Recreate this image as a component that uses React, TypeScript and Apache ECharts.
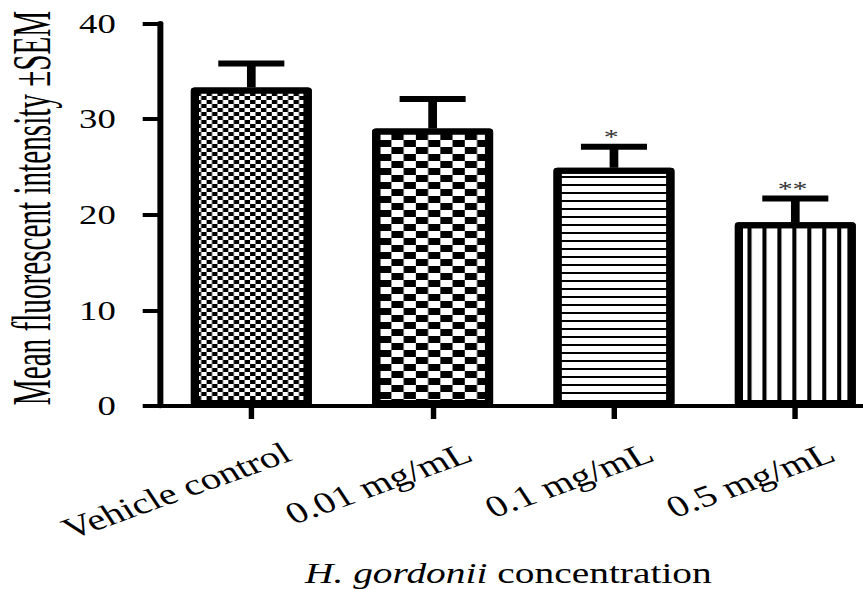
import React, { useEffect, useRef } from 'react';
import * as echarts from 'echarts';

// ---- data ----
const categories = ['Vehicle control', '0.01 mg/mL', '0.1 mg/mL', '0.5 mg/mL'];
const meanValues = [33.3, 29.0, 24.9, 19.2];
const semValues = [2.5, 3.1, 2.2, 2.5];
const significance = ['', '', '*', '**'];
const yTickValues = [0, 10, 20, 30, 40];
const yAxisTitle = 'Mean fluorescent intensity \u00B1SEM';
const xAxisTitleItalic = 'H. gordonii';
const xAxisTitleRest = ' concentration';

// ---- layout / style ----
const W = 635;
const H = 589;
const STRETCH = 863 / W;
const FONT = 'Liberation Serif';

const baseDecal = { symbol: 'rect', symbolSize: 1, symbolKeepAspect: false, color: '#000' };
const decals = [
  { ...baseDecal, dashArrayX: [[4, 4], [0, 4, 4, 0]], dashArrayY: [4, 0] },
  { ...baseDecal, dashArrayX: [[9, 9], [0, 9, 9, 0]], dashArrayY: [7, 0] },
  { ...baseDecal, dashArrayX: [20, 0], dashArrayY: [2, 6] },
  { ...baseDecal, dashArrayX: [3, 8], dashArrayY: [20, 0] },
];

export default function App() {
  const ref = useRef<HTMLDivElement>(null);

  useEffect(() => {
    if (!ref.current) return;
    const chart = echarts.init(ref.current, null, { renderer: 'svg' });
    const yStep = yTickValues[1] - yTickValues[0];
    const option: any = {
      animation: false,
      backgroundColor: '#fff',
      aria: { enabled: true, decal: { show: true } },
      textStyle: { fontFamily: FONT },
      grid: {
        left: 118.2,
        right: -16.9,
        top: 23.3,
        bottom: 183,
        containLabel: false,
        outerBoundsMode: 'none',
      },
      graphic: [
        {
          type: 'text',
          x: 23,
          y: 208,
          rotation: Math.PI / 2,
          scaleX: 0.712,
          scaleY: 1,
          silent: true,
          style: {
            text: yAxisTitle,
            fontFamily: FONT,
            fontSize: 41,
            fill: '#000',
            align: 'center',
            verticalAlign: 'middle',
          },
        },
      ],
      xAxis: {
        type: 'category',
        data: categories,
        boundaryGap: true,
        name: `{i|${xAxisTitleItalic}}${xAxisTitleRest}`,
        nameLocation: 'middle',
        nameGap: 152,
        nameMoveOverlap: false,
        nameTextStyle: {
          fontFamily: FONT,
          fontSize: 29,
          color: '#000',
          padding: [0, 22, 0, 0],
          rich: { i: { fontFamily: FONT, fontSize: 29, fontStyle: 'italic', color: '#000' } },
        },
        axisLine: { show: true, lineStyle: { color: '#000', width: 4 } },
        axisTick: { show: true, alignWithLabel: true, length: 13, lineStyle: { color: '#000', width: 4 } },
        axisLabel: {
          interval: 0,
          rotate: 26,
          margin: -10,
          fontFamily: FONT,
          fontSize: 30,
          color: '#000',
          align: 'right',
          verticalAlign: 'top',
          padding: [46, 0, 0, 0],
        },
        splitLine: { show: false },
      },
      yAxis: {
        type: 'value',
        min: yTickValues[0],
        max: yTickValues[yTickValues.length - 1],
        interval: yStep,
        axisLine: { show: true, lineStyle: { color: '#000', width: 4.4 } },
        axisTick: { show: true, length: 13.2, lineStyle: { color: '#000', width: 4 } },
        axisLabel: { fontFamily: FONT, fontSize: 27, color: '#000', margin: 33, padding: [7, 0, 0, 0] },
        splitLine: { show: false },
      },
      series: [
        {
          type: 'bar',
          barWidth: 89,
          data: meanValues.map((v, i) => ({ value: v, itemStyle: { decal: decals[i] } })),
          itemStyle: { color: '#fff', borderColor: '#000', borderWidth: 6, borderJoin: 'round' },
          z: 2,
        },
        {
          type: 'custom',
          z: 5,
          data: meanValues.map((m, i) => [i, m, semValues[i]]),
          renderItem: (params: any, api: any) => {
            const idx = api.value(0);
            const mean = api.value(1);
            const sem = api.value(2);
            const base = api.coord([idx, mean]);
            const top = api.coord([idx, mean + sem]);
            const hw = 24.3;
            const mark = significance[params.dataIndex];
            const children: any[] = [
              { type: 'line', shape: { x1: base[0], y1: base[1], x2: top[0], y2: top[1] }, style: { stroke: '#000', lineWidth: 6.4 } },
              { type: 'line', shape: { x1: top[0] - hw, y1: top[1], x2: top[0] + hw, y2: top[1] }, style: { stroke: '#000', lineWidth: 6 } },
            ];
            if (mark) {
              children.push({
                type: 'text',
                x: top[0] - 2,
                y: top[1] - 9.5,
                style: { text: mark, fontFamily: FONT, fontSize: 22, fill: '#333', align: 'center', verticalAlign: 'middle' },
              });
            }
            return { type: 'group', children };
          },
        },
      ],
    };
    chart.setOption(option);
    return () => chart.dispose();
  }, []);

  return (
    <div
      ref={ref}
      style={{
        position: 'absolute',
        left: 0,
        top: 0,
        width: W,
        height: H,
        transform: `scaleX(${STRETCH})`,
        transformOrigin: '0 0',
        background: '#fff',
      }}
    />
  );
}
